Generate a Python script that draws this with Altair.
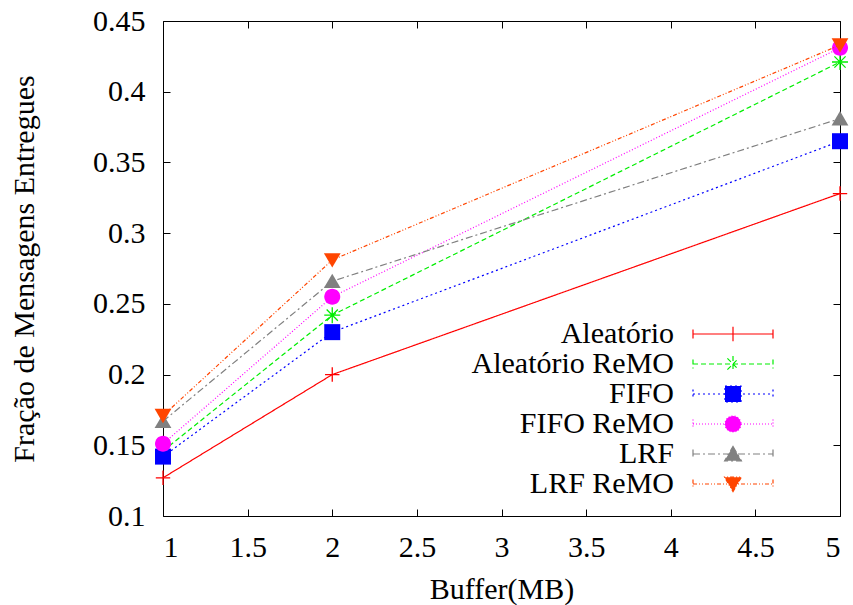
import altair as alt
import pandas as pd

# ---- data ----
buffer_mb = [1, 2, 5]
series_names = ["Aleatório", "Aleatório ReMO", "FIFO", "FIFO ReMO", "LRF", "LRF ReMO"]
aleatorio = [0.127, 0.200, 0.328]
aleatorio_remo = [0.146, 0.242, 0.421]
fifo = [0.142, 0.230, 0.365]
fifo_remo = [0.151, 0.255, 0.431]
lrf = [0.167, 0.266, 0.381]
lrf_remo = [0.171, 0.281, 0.433]
x_ticks = [1, 1.5, 2, 2.5, 3, 3.5, 4, 4.5, 5]
y_ticks = [0.1, 0.15, 0.2, 0.25, 0.3, 0.35, 0.4, 0.45]

# ---- styles ----
colors = ["#ff0000", "#00ee00", "#0000ff", "#ff00ff", "#808080", "#ff4500"]
dashes = [[1, 0], [5, 3], [2, 3], [1, 2], [7, 3, 2, 3], [4, 2, 1, 2, 1, 2]]
marker_kinds = ["plus", "star", "square", "circle", "tri_up", "tri_down"]
filled = [False, False, True, True, True, True]


def marker_path(kind, dx=0.0):
    def p(x):
        return f"{x + dx:g}"
    if kind == "plus":
        return f"M{p(-0.9)},0H{p(0.9)}M{p(0)},-0.9V0.9"
    if kind == "star":
        return (f"M{p(-1)},0H{p(1)}M{p(0)},-1V1M{p(-0.7)},-0.7L{p(0.7)},0.7"
                f"M{p(-0.7)},0.7L{p(0.7)},-0.7")
    if kind == "square":
        return f"M{p(-1)},-1H{p(1)}V1H{p(-1)}Z"
    if kind == "circle":
        return f"M{p(1)},0A1,1,0,1,1,{p(-1)},0A1,1,0,1,1,{p(1)},0Z"
    if kind == "tri_up":
        return f"M{p(0)},-0.95L{p(1.05)},0.85L{p(-1.05)},0.85Z"
    return f"M{p(0)},0.95L{p(1.05)},-0.85L{p(-1.05)},-0.85Z"


SHIFT = 9.25  # legend sample drawn to the right of its label
sample = (f"M{-5 + SHIFT:g},0H{5 + SHIFT:g}M{-5 + SHIFT:g},-0.55V0.55"
          f"M{5 + SHIFT:g},-0.55V0.55")
legend_paths = [sample + marker_path(k, SHIFT) for k in marker_kinds]

values = [aleatorio, aleatorio_remo, fifo, fifo_remo, lrf, lrf_remo]
rows = []
for name, vals in zip(series_names, values):
    for b, v in zip(buffer_mb, vals):
        rows.append({"buffer": b, "series": name, "value": v})
df = pd.DataFrame(rows)

FONT = "Times New Roman, Liberation Serif, DejaVu Serif, serif"
xscale = alt.Scale(domain=[1, 5], nice=False, zero=False)
yscale = alt.Scale(domain=[0.1, 0.45], nice=False, zero=False)

main_x_axis = alt.Axis(values=x_ticks, format="~g", orient="bottom", offset=-7, tickSize=7,
                       labelPadding=16, domain=False, grid=False, title="Buffer(MB)",
                       titlePadding=12)
main_y_axis = alt.Axis(values=y_ticks, format="~g", orient="left", offset=-7, tickSize=7,
                       labelPadding=18, domain=False, grid=False,
                       title="Fração de Mensagens Entregues", titlePadding=53)
mirror_x_axis = alt.Axis(values=x_ticks, orient="top", offset=-7, tickSize=7, labels=False,
                         domain=False, grid=False, title=None)
mirror_y_axis = alt.Axis(values=y_ticks, orient="right", offset=-7, tickSize=7, labels=False,
                         domain=False, grid=False, title=None)

layers = []
for i, name in enumerate(series_names):
    base = alt.Chart().transform_filter(alt.datum.series == name)
    if i == 0:
        lx, ly = main_x_axis, main_y_axis
        px, py = mirror_x_axis, mirror_y_axis
    else:
        lx = ly = px = py = None
    line = base.mark_line(color=colors[i], strokeDash=dashes[i], strokeWidth=1.2, opacity=1).encode(
        x=alt.X("buffer:Q", scale=xscale, axis=lx),
        y=alt.Y("value:Q", scale=yscale, axis=ly),
    )
    if filled[i]:
        pm = base.mark_point(shape=marker_path(marker_kinds[i]), size=256, filled=True,
                             fill=colors[i], strokeWidth=0, opacity=1)
    else:
        pm = base.mark_point(shape=marker_path(marker_kinds[i]), size=256, filled=False,
                             stroke=colors[i], strokeWidth=1.3, opacity=1)
    pts = pm.encode(
        x=alt.X("buffer:Q", scale=xscale, axis=px),
        y=alt.Y("value:Q", scale=yscale, axis=py),
    )
    layers += [line, pts]

leg = alt.Legend(orient="none", legendX=481, legendY=298, title=None, labelAlign="right",
                 labelOffset=0, labelFont=FONT, labelFontSize=30, labelLimit=500,
                 symbolSize=256, symbolStrokeWidth=1.2, rowPadding=0, padding=0,
                 labelColor="black")

legend_layer = alt.Chart().transform_filter("false").mark_point(
    size=256, strokeWidth=1.2, opacity=1
).encode(
    x=alt.X("buffer:Q", scale=xscale, axis=None),
    y=alt.Y("value:Q", scale=yscale, axis=None),
    shape=alt.Shape("series:N", scale=alt.Scale(domain=series_names, range=legend_paths), legend=leg),
    fill=alt.Fill("series:N", scale=alt.Scale(domain=series_names, range=colors), legend=leg),
    stroke=alt.Stroke("series:N", scale=alt.Scale(domain=series_names, range=colors), legend=leg),
    strokeDash=alt.StrokeDash("series:N", scale=alt.Scale(domain=series_names, range=dashes), legend=leg),
)
layers.append(legend_layer)

chart = alt.layer(*layers, data=df).resolve_axis(
    x="independent", y="independent"
).properties(
    width=677, height=495,
    autosize=alt.AutoSizeParams(type="none"),
    padding={"left": 163, "top": 21, "right": 13, "bottom": 89},
    background="white",
).configure_view(
    stroke="black", strokeWidth=1
).configure_axis(
    labelFont=FONT, labelFontSize=30, labelColor="black",
    titleFont=FONT, titleFontSize=30, titleColor="black", titleFontWeight="normal",
    tickColor="black", tickWidth=1,
)

chart.save("out.html", embed_options={"renderer": "svg", "actions": False})
